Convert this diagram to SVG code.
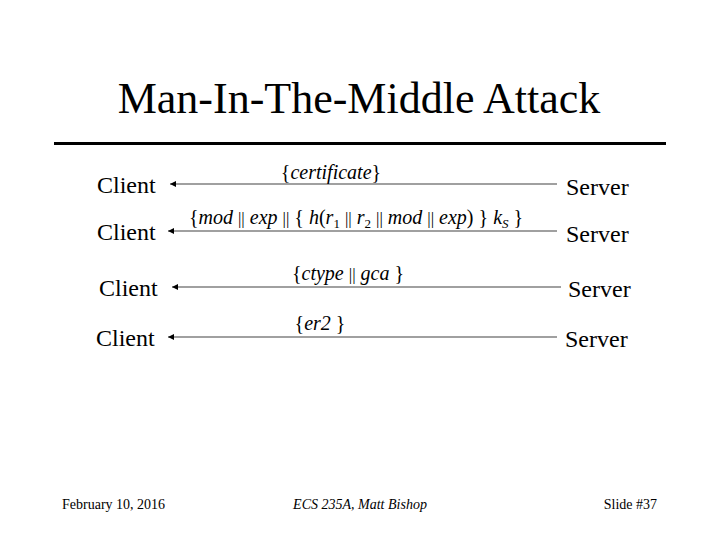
<svg xmlns="http://www.w3.org/2000/svg" width="720" height="540" viewBox="0 0 720 540">
<defs>
<marker id="ah" viewBox="0 0 10 10" refX="0" refY="5" markerWidth="4" markerHeight="4" orient="auto" markerUnits="strokeWidth">
<path d="M0,5 L10,0 L10,10 Z" fill="#000"/>
</marker>
<style>
text{font-family:"Liberation Serif","Times New Roman",serif;fill:#000}
.node{font-size:24px}
.lbl{font-size:20px;font-style:italic}
.up{font-style:normal}
.bar{font-size:17px;font-style:normal}
.sub{font-size:13px}
.ft{font-size:14px}
.msg{stroke:#808080;stroke-width:1.6;fill:none;marker-start:url(#ah)}
</style>
</defs>
<rect width="720" height="540" fill="#fff"/>
<text x="359" y="113" font-size="44" text-anchor="middle">Man-In-The-Middle Attack</text>
<line x1="54" y1="143.5" x2="666" y2="143.5" stroke="#000" stroke-width="3"/>

<g id="client1"><text class="node" x="97" y="193">Client</text></g>
<g id="server1"><text class="node" x="566" y="195">Server</text></g>
<g id="client2"><text class="node" x="97" y="240">Client</text></g>
<g id="server2"><text class="node" x="566" y="242">Server</text></g>
<g id="client3"><text class="node" x="99" y="296">Client</text></g>
<g id="server3"><text class="node" x="568" y="297">Server</text></g>
<g id="client4"><text class="node" x="96" y="346">Client</text></g>
<g id="server4"><text class="node" x="565" y="347">Server</text></g>

<g id="connectors">
<line class="msg" x1="170" y1="184" x2="557" y2="184"/>
<line class="msg" x1="168" y1="231" x2="557" y2="231"/>
<line class="msg" x1="172" y1="287" x2="561" y2="287"/>
<line class="msg" x1="168" y1="337" x2="557" y2="337"/>
<text class="lbl" x="331" y="179" text-anchor="middle" font-size="19"><tspan class="up">{</tspan>certificate<tspan class="up">}</tspan></text>
<text class="lbl" x="356" y="224" text-anchor="middle"><tspan class="up">{</tspan>mod <tspan class="bar">||</tspan> exp <tspan class="bar">||</tspan><tspan class="up"> { </tspan>h<tspan class="up">(</tspan>r<tspan class="up sub" dy="4">1</tspan><tspan dy="-4"> </tspan><tspan class="bar">||</tspan> r<tspan class="up sub" dy="4">2</tspan><tspan dy="-4"> </tspan><tspan class="bar">||</tspan> mod <tspan class="bar">||</tspan> exp<tspan class="up">) } </tspan>k<tspan class="sub" dy="4">S</tspan><tspan class="up" dy="-4"> }</tspan></text>
<text class="lbl" x="348" y="280" text-anchor="middle"><tspan class="up">{</tspan>ctype <tspan class="bar">||</tspan> gca <tspan class="up">}</tspan></text>
<text class="lbl" x="320" y="330" text-anchor="middle"><tspan class="up">{</tspan>er2 <tspan class="up">}</tspan></text>
</g>

<text class="ft" x="62" y="509">February 10, 2016</text>
<text class="ft" x="360" y="509" text-anchor="middle" font-style="italic" font-size="13.5">ECS 235A, Matt Bishop</text>
<text class="ft" x="657" y="509" text-anchor="end">Slide #37</text>
</svg>
